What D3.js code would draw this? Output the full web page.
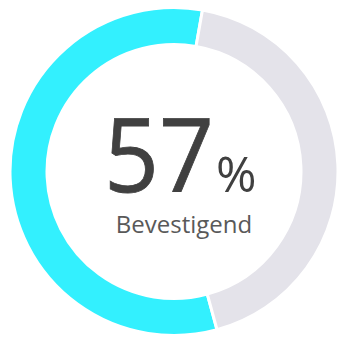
<!DOCTYPE html>
<html>
<head>
<meta charset="utf-8">
<script src="https://cdn.jsdelivr.net/npm/d3@7"></script>
<style>
  html, body { margin: 0; padding: 0; background: #ffffff; }
  svg { display: block; }
</style>
</head>
<body>
<svg id="chart" width="338" height="340"></svg>
<script>
// Share of answers, confirming vs. the remainder
const categories = ["Bevestigend", "Overig"];
const values = [57, 43];
const colors = ["#33F0FE", "#E4E3EA"];
const label = "Bevestigend";

const width = 338, height = 340;
const cx = 174, cy = 171.5;
const outerR = 164, innerR = 127;
const startDeg = 164.8;

const svg = d3.select("#chart");
const g = svg.append("g").attr("transform", `translate(${cx},${cy})`);

const start = startDeg * Math.PI / 180;
const pie = d3.pie()
  .sort(null)
  .value(d => d)
  .startAngle(start)
  .endAngle(start + 2 * Math.PI);

const arc = d3.arc().innerRadius(innerR).outerRadius(outerR);

const color = d3.scaleOrdinal().domain(categories).range(colors);

g.selectAll("path.slice")
  .data(pie(values))
  .join("path")
  .attr("class", "slice")
  .attr("d", arc)
  .attr("fill", (d, i) => color(categories[i]))
  .attr("stroke", "#ffffff")
  .attr("stroke-width", 3);

// Centre readout: big value, percent sign and caption in one text block
const fmt = d3.format("d");
const readout = svg.append("text")
  .attr("font-family", "'Open Sans', sans-serif")
  .attr("fill", "#404040");

readout.append("tspan")
  .attr("x", 104)
  .attr("y", 192)
  .attr("font-size", 103)
  .attr("stroke", "#404040")
  .attr("stroke-width", 0.8)
  .attr("textLength", 110)
  .attr("lengthAdjust", "spacingAndGlyphs")
  .text(fmt(values[0]));

readout.append("tspan")
  .attr("x", 216)
  .attr("y", 192)
  .attr("font-size", 49)
  .text("%");

readout.append("tspan")
  .attr("x", 184)
  .attr("y", 233)
  .attr("text-anchor", "middle")
  .attr("font-size", 24)
  .attr("fill", "#595959")
  .text(label);
</script>
</body>
</html>
